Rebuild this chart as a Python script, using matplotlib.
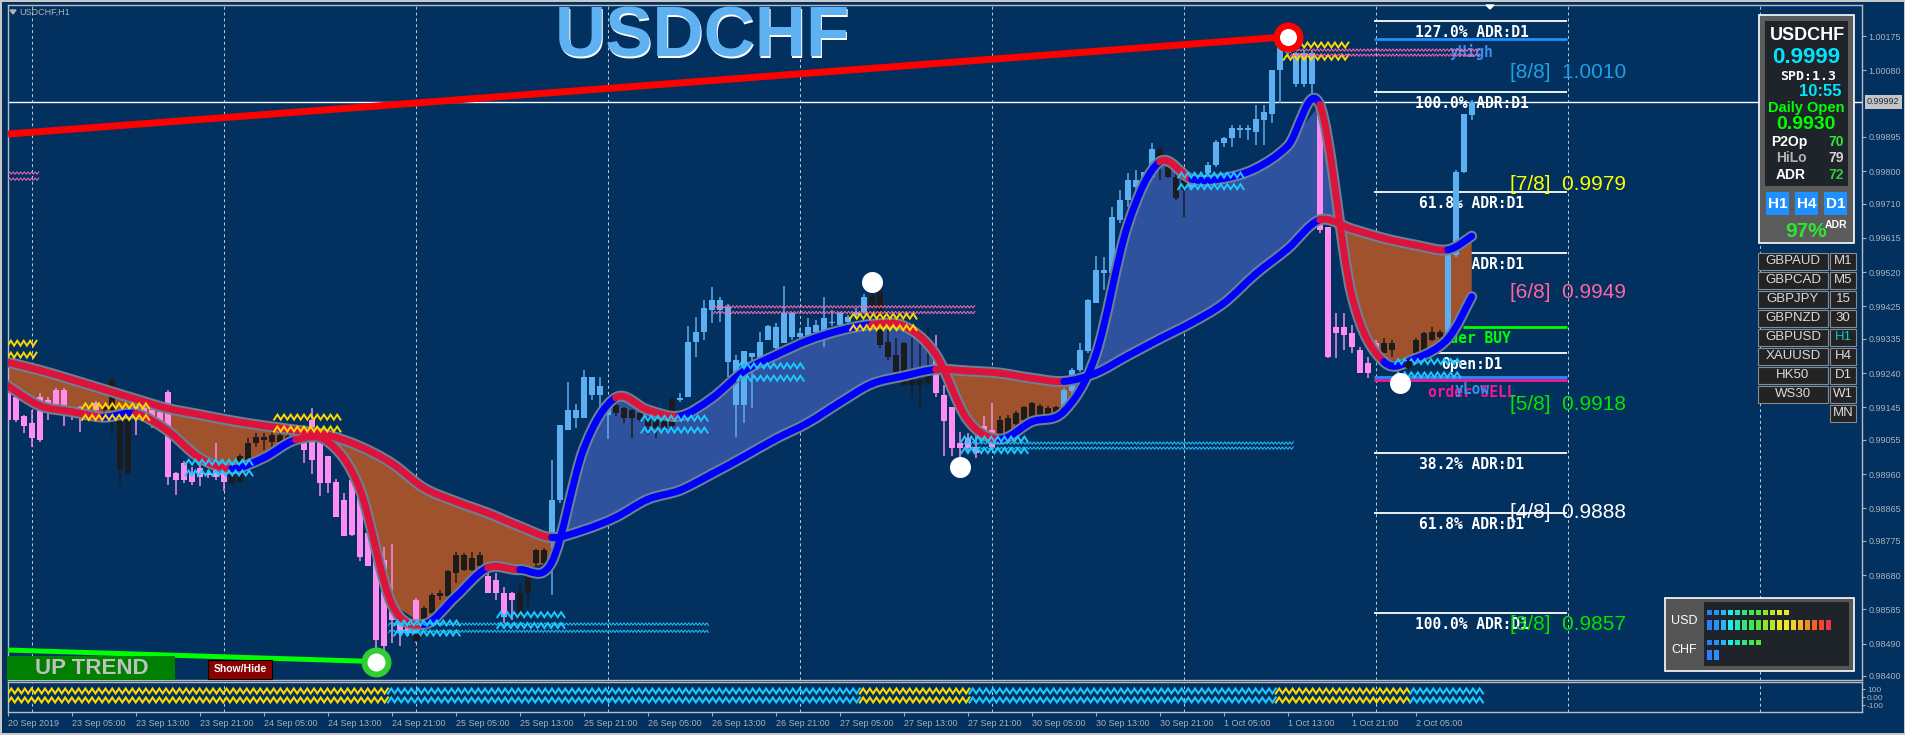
import numpy as np
import matplotlib
matplotlib.use("Agg")
import matplotlib.pyplot as plt
from matplotlib.patches import Rectangle, Polygon, PathPatch
from matplotlib.path import Path

plt.rcParams['font.family'] = ['Liberation Sans', 'DejaVu Sans']

# ======================= DATA =======================
symbol = "USDCHF"
# H1 candles, prices in points (1e-5)
open_pts = [
99203, 99175, 99120, 99101, 99175, 99166, 99147, 99194, 99138, 99147,
99138, 99157, 99147, 99138, 99138, 98963, 99129, 99129, 99110, 99133,
99189, 98963, 98990, 98963, 98976, 98963, 98953, 98981, 98963, 99009,
99000, 99046, 99055, 99050, 99050, 99050, 99064, 99046, 99110, 99050,
99009, 98939, 98889, 98944, 98898, 98796, 98741, 98722, 98611, 98547,
98556, 98519, 98556, 98574, 98621, 98621, 98685, 98695, 98695, 98704,
98676, 98667, 98630, 98630, 98630, 98630, 98750, 98750, 98796, 98889,
99082, 99115, 99115, 99230, 99179, 99143, 99152, 99143, 99138, 99129,
99115, 99110, 99106, 99092, 99166, 99173, 99327, 99355, 99415, 99443,
99424, 99276, 99152, 99295, 99281, 99332, 99369, 99323, 99406, 99341,
99343, 99373, 99332, 99378, 99373, 99383, 99401, 99410, 99420, 99465,
99327, 99290, 99323, 99244, 99221, 99258, 99286, 99179, 99147, 99045,
99059, 99036, 99069, 99082, 99110, 99060, 99100, 99110, 99115, 99150,
99120, 99115, 99140, 99190, 99249, 99300, 99434, 99526, 99517, 99665,
99720, 99757, 99785, 99785, 99863, 99812, 99785, 99748, 99766, 99775,
99794, 99817, 99877, 99891, 99914, 99919, 99910, 99942, 99960, 100080,
100140, 100127, 100043, 100127, 99997, 99646, 99369, 99369, 99350, 99304,
99267, 99295, 99295, 99304, 99258, 99258, 99295, 99300, 99332, 99341,
99350, 99568, 99799, 99956]
high_pts = [
99207, 99184, 99124, 99138, 99184, 99175, 99198, 99198, 99140, 99150,
99145, 99162, 99155, 99226, 99140, 99120, 99147, 99150, 99147, 99140,
99192, 98967, 98995, 98981, 98990, 98970, 99046, 98985, 98967, 99015,
99060, 99073, 99073, 99083, 99075, 99078, 99075, 99055, 99143, 99055,
99009, 98945, 98907, 98944, 98900, 98796, 98741, 98759, 98765, 98556,
98560, 98616, 98593, 98630, 98639, 98695, 98745, 98740, 98745, 98745,
98695, 98685, 98648, 98632, 98658, 98704, 98752, 98755, 99000, 99096,
99216, 99155, 99249, 99230, 99230, 99155, 99160, 99147, 99140, 99132,
99118, 99112, 99110, 99175, 99184, 99371, 99397, 99443, 99478, 99452,
99432, 99290, 99300, 99295, 99355, 99373, 99378, 99482, 99410, 99364,
99392, 99387, 99450, 99415, 99410, 99400, 99420, 99460, 99492, 99470,
99360, 99337, 99325, 99337, 99364, 99364, 99346, 99207, 99147, 99078,
99073, 99082, 99120, 99156, 99120, 99125, 99135, 99150, 99160, 99155,
99150, 99150, 99200, 99253, 99323, 99445, 99565, 99563, 99702, 99748,
99794, 99803, 99799, 99877, 99868, 99820, 99803, 99785, 99775, 99790,
99826, 99886, 99896, 99928, 99928, 99928, 99983, 99983, 100080, 100164,
100173, 100130, 100136, 100136, 100006, 99646, 99406, 99406, 99374, 99313,
99286, 99332, 99337, 99332, 99258, 99270, 99337, 99355, 99369, 99360,
99577, 99803, 99960, 99997]
low_pts = [
99101, 99105, 99073, 99036, 99050, 99110, 99143, 99092, 99110, 99078,
99120, 99133, 99133, 99064, 98930, 98958, 99069, 99120, 99087, 99087,
98930, 98902, 98935, 98930, 98926, 98950, 98944, 98912, 98930, 98935,
98995, 99036, 99027, 99036, 99045, 99046, 99060, 98990, 98960, 98898,
98907, 98842, 98787, 98787, 98720, 98704, 98440, 98440, 98491, 98482,
98510, 98491, 98540, 98556, 98611, 98611, 98658, 98690, 98690, 98700,
98630, 98611, 98547, 98556, 98556, 98593, 98704, 98710, 98625, 98880,
99082, 99087, 99115, 99166, 99129, 99057, 99120, 99103, 99059, 99105,
99069, 99059, 99080, 99082, 99160, 99173, 99286, 99332, 99380, 99383,
99230, 99064, 99101, 99143, 99281, 99332, 99304, 99323, 99332, 99337,
99341, 99350, 99313, 99370, 99365, 99375, 99395, 99405, 99410, 99310,
99276, 99244, 99203, 99175, 99147, 99207, 99175, 99009, 99009, 98981,
99020, 99004, 99055, 99030, 99045, 99050, 99090, 99100, 99100, 99105,
99105, 99100, 99130, 99180, 99244, 99295, 99434, 99471, 99457, 99655,
99702, 99748, 99780, 99785, 99775, 99780, 99720, 99674, 99750, 99770,
99789, 99812, 99868, 99868, 99891, 99886, 99873, 99873, 99933, 99988,
100117, 100034, 100034, 100006, 99628, 99281, 99281, 99304, 99295, 99240,
99226, 99286, 99295, 99286, 99212, 99250, 99295, 99295, 99328, 99335,
99346, 99563, 99794, 99942]
close_pts = [
99110, 99110, 99092, 99060, 99055, 99138, 99194, 99129, 99124, 99129,
99129, 99138, 99138, 99221, 98972, 99120, 99147, 99147, 99138, 99087,
98953, 98944, 98944, 98939, 98953, 98958, 98990, 98939, 98935, 98939,
99046, 99064, 99064, 99069, 99069, 99066, 99069, 99027, 99000, 98935,
98935, 98842, 98787, 98792, 98731, 98704, 98500, 98482, 98556, 98519,
98519, 98611, 98588, 98625, 98630, 98690, 98736, 98736, 98727, 98736,
98630, 98630, 98565, 98611, 98574, 98695, 98713, 98713, 98889, 99096,
99138, 99138, 99230, 99179, 99203, 99124, 99129, 99115, 99115, 99110,
99092, 99087, 99087, 99167, 99167, 99327, 99355, 99420, 99443, 99415,
99272, 99152, 99300, 99286, 99327, 99371, 99309, 99406, 99340, 99350,
99369, 99355, 99392, 99383, 99406, 99397, 99410, 99452, 99455, 99318,
99286, 99244, 99207, 99207, 99207, 99212, 99184, 99106, 99032, 99032,
99032, 99018, 99092, 99036, 99060, 99115, 99129, 99147, 99156, 99120,
99143, 99147, 99193, 99249, 99304, 99443, 99526, 99517, 99674, 99720,
99775, 99775, 99799, 99863, 99826, 99785, 99725, 99775, 99757, 99785,
99817, 99882, 99891, 99919, 99919, 99914, 99946, 99965, 100080, 100150,
100127, 100043, 100127, 100043, 99637, 99286, 99350, 99346, 99313, 99240,
99240, 99323, 99323, 99323, 99226, 99267, 99332, 99350, 99355, 99355,
99572, 99799, 99960, 99992]

# moving averages sampled every 4 bars (bar index -> points)
ma_bar = list(range(0, 184, 4)) + [183]
fast_ma_pts = [99205, 99150, 99133, 99118, 99128, 99080, 99005, 98975, 99005, 99055,
               99050, 98920, 98600, 98543, 98620, 98700, 98695, 98715, 99030, 99172,
               99138, 99121, 99170, 99245, 99290, 99330, 99358, 99375, 99371, 99292,
               99110, 99057, 99105, 99133, 99290, 99650, 99826, 99778, 99780, 99808,
               99870, 99985, 99457, 99272, 99281, 99335, 99452]
slow_ma_pts = [99270, 99248, 99222, 99195, 99168, 99142, 99125, 99108, 99094, 99082,
               99068, 99037, 98990, 98922, 98884, 98852, 98815, 98784, 98805, 98840,
               98890, 98915, 98960, 99008, 99058, 99102, 99158, 99210, 99232, 99250,
               99246, 99240, 99226, 99217, 99240, 99288, 99335, 99380, 99434, 99515,
               99585, 99665, 99640, 99614, 99595, 99582, 99620]

# time axis
tick_bars = list(range(0, 184, 8))
tick_labels = ["20 Sep 2019", "23 Sep 05:00", "23 Sep 13:00", "23 Sep 21:00", "24 Sep 05:00",
               "24 Sep 13:00", "24 Sep 21:00", "25 Sep 05:00", "25 Sep 13:00", "25 Sep 21:00",
               "26 Sep 05:00", "26 Sep 13:00", "26 Sep 21:00", "27 Sep 05:00", "27 Sep 13:00",
               "27 Sep 21:00", "30 Sep 05:00", "30 Sep 13:00", "30 Sep 21:00", "1 Oct 05:00",
               "1 Oct 13:00", "1 Oct 21:00", "2 Oct 05:00"]
day_start_bars = [3, 27, 51, 75, 99, 123, 147, 171, 195, 219]
price_ticks = [1.00175, 1.00080, 0.99895, 0.99800, 0.99710, 0.99615, 0.99520, 0.99425,
               0.99335, 0.99240, 0.99145, 0.99055, 0.98960, 0.98865, 0.98775, 0.98680,
               0.98585, 0.98490, 0.98400]
bid_price = 0.99992

# trend lines (bar, price)
red_trend_bars = [0, 160]
red_trend_prices = [0.99903, 1.00173]
green_trend_bars = [0, 46]
green_trend_prices = [0.98472, 0.98440]

# swing points
swing_bars = [46, 108, 119, 160, 174]
swing_sides = ["low", "high", "low", "high", "low"]
dot_bars = [51, 175]

# daily ADR / pivot levels
adr_levels = [1.00217, 1.00020, 0.99743, 0.99574, 0.99019, 0.98851, 0.98574]
adr_labels = ["127.0% ADR:D1", "100.0% ADR:D1", "61.8% ADR:D1", "38.2% ADR:D1",
              "38.2% ADR:D1", "61.8% ADR:D1", "100.0% ADR:D1"]
daily_open_level = 0.99297
y_high = 1.00167
y_low = 0.99230
order_sell = 0.99222
order_buy = 0.99368

# Murrey math levels
murrey_names = ["[8/8]", "[7/8]", "[6/8]", "[5/8]", "[4/8]", "[3/8]"]
murrey_levels = [1.0010, 0.9979, 0.9949, 0.9918, 0.9888, 0.9857]

# zigzag band markers: (start bar, end bar, upper price, lower price, kind)
band_start = [0, 9.3, 22.2, 33.3, 48.3, 61.2, 79.2, 91.2, 105.3, 119.2, 146.3, 159.5, 173.4]
band_end = [3.6, 17.7, 30.6, 41.6, 56.5, 69.6, 87.5, 99.5, 113.6, 127.5, 154.5, 167.6, 181.6]
band_top = [0.99323, 0.99149, 0.98993, 0.99118, 0.98547, 0.98570, 0.99115, 0.99260,
            0.99398, 0.99057, 0.99789, 1.00150, 0.99272]
band_bot = [0.99290, 0.99117, 0.98963, 0.99085, 0.98519, 0.98540, 0.99082, 0.99226,
            0.99366, 0.99025, 0.99757, 1.00116, 0.99235]
band_kind = ["res", "res", "sup", "res", "sup", "sup", "sup", "sup", "res", "sup", "sup", "res", "sup"]
thin_start = [0, 88.2, 160.3, 47.6, 119.5]
thin_end = [3.9, 120.9, 184.0, 87.6, 160.7]
thin_top = [0.99795, 0.99424, 1.00136, 0.98544, 0.99046]
thin_bot = [0.99778, 0.99408, 1.00122, 0.98524, 0.99032]
thin_kind = ["res", "res", "res", "sup", "sup"]

# lower indicator panel state segments
lower_bounds = [0, 47.5, 106.5, 120.2, 158.5, 175.3, 184.4]
lower_state = [1, 0, 1, 0, 1, 0]

# info panel
info_price = "0.9999"
info_spread = "SPD:1.3"
info_time = "10:55"
info_daily_open = "0.9930"
info_p2op, info_hilo, info_adr = 70, 79, 72
info_adr_pct = 97
pairs = ["GBPAUD", "GBPCAD", "GBPJPY", "GBPNZD", "GBPUSD", "XAUUSD", "HK50", "WS30", ""]
pair_tfs = ["M1", "M5", "15", "30", "H1", "H4", "D1", "W1", "MN"]
usd_strength = [12, 18]
chf_strength = [8, 2]

# ======================= FIGURE =======================
W, H = 1906, 735
fig = plt.figure(figsize=(W / 100, H / 100), dpi=100)
fig.patch.set_facecolor('#c8c8c8')
BG = '#02305f'
AXC = '#a9b1ba'
PX = 0.72  # points per pixel


def frac(x0, y0, x1, y1):
    return [x0 / W, 1 - y1 / H, (x1 - x0) / W, (y1 - y0) / H]


bg = fig.add_axes([0, 0, 1, 1])
bg.set_xlim(0, W); bg.set_ylim(H, 0); bg.axis('off'); bg.set_zorder(0)
bg.add_patch(Rectangle((2, 2), W - 4, H - 4, facecolor=BG, edgecolor='none'))

# main chart axes
XPB = 8.0           # pixels per bar
YPP = 36056.0       # pixels per price unit
x_lo = (8 - 7.7) / XPB
x_hi = (1862 - 7.7) / XPB
y_lo, y_hi = 0.983889, 1.002610
ax = fig.add_axes(frac(8, 5, 1862, 680))
ax.set_zorder(1); ax.patch.set_alpha(0)
ax.set_xlim(x_lo, x_hi); ax.set_ylim(y_lo, y_hi)

axl = fig.add_axes(frac(8, 682, 1862, 712))
axl.set_zorder(1); axl.patch.set_alpha(0)
axl.set_xlim(x_lo, x_hi); axl.set_ylim(-187.5, 187.5)

for a in (ax, axl):
    for s in a.spines.values():
        s.set_color('#b8bcc2'); s.set_linewidth(1.0)
    for g in day_start_bars:
        a.axvline(g, color='#c8ccd2', lw=0.7, ls=(0, (3, 3)), zorder=0.5)

# axes ticks
ax.yaxis.tick_right()
ax.set_yticks(price_ticks)
ax.set_yticklabels([f"{v:.5f}" for v in price_ticks])
ax.tick_params(axis='y', length=3, pad=1.5, colors=AXC, labelsize=6.5, width=0.8)
ax.tick_params(axis='x', bottom=False, labelbottom=False)
ax.annotate(f"{bid_price:.5f}", xy=(1, bid_price), xycoords=('axes fraction', 'data'),
            xytext=(5, 0), textcoords='offset pixels', ha='left', va='center',
            fontsize=6.5, color='#1a2b40', annotation_clip=False,
            bbox=dict(boxstyle='square,pad=0.25', fc='#c4c4c4', ec='none'))

axl.yaxis.tick_right()
axl.set_yticks([100, 0, -100]); axl.set_yticklabels(['100', '0.00', '-100'])
axl.tick_params(axis='y', length=2, pad=1.5, colors=AXC, labelsize=6, width=0.8)
axl.set_xticks(tick_bars)
axl.set_xticklabels(tick_labels, ha='left')
axl.tick_params(axis='x', length=3, pad=2, colors=AXC, labelsize=6.5, width=0.8)

# current bid line
ax.axhline(bid_price, color='white', lw=1.0, zorder=1)

# ---- ADR levels and labels ----
lvl_x0 = (1374 - 7.7) / XPB
lvl_x1 = (1567 - 7.7) / XPB
lbl_x = 183
mono = dict(family='DejaVu Sans Mono', fontweight='bold', fontsize=10.5)
for lv, lb in zip(adr_levels, adr_labels):
    ax.hlines(lv, lvl_x0, lvl_x1, color='white', lw=1.3, zorder=1.5)
    ax.annotate(lb, xy=(lbl_x, lv), xytext=(0, -4), textcoords='offset pixels',
                ha='center', va='top', color='white', zorder=1.5, **mono)
ax.hlines(daily_open_level, lvl_x0, lvl_x1, color='white', lw=1.3, zorder=1.5)
ax.annotate("Open:D1", xy=(lbl_x, daily_open_level), xytext=(0, -4), textcoords='offset pixels',
            ha='center', va='top', color='white', zorder=1.5, **mono)
ax.hlines(order_buy, (1463 - 7.7) / XPB, lvl_x1, color='#00ff00', lw=2.0, zorder=1.5)
ax.annotate("order BUY", xy=(lbl_x, order_buy), xytext=(0, -4), textcoords='offset pixels',
            ha='center', va='top', color='#00ff00', zorder=1.5, **mono)
ax.hlines(order_sell, lvl_x0, lvl_x1, color='#ff1493', lw=2.0, zorder=1.5)
ax.annotate("order SELL", xy=(lbl_x, order_sell), xytext=(0, -5), textcoords='offset pixels',
            ha='center', va='top', color='#ff1493', zorder=1.5, **mono)
for lv, lb in ((y_high, "yHigh"), (y_low, "yLow")):
    ax.hlines(lv, lvl_x0, lvl_x1, color='#1e90ff', lw=2.0, zorder=1.6)
    ax.annotate(lb, xy=(lbl_x, lv), xytext=(0, -5), textcoords='offset pixels',
                ha='center', va='top', color='#3a8ee8', zorder=1.6, **mono)

# ---- MA band fill ----
mx = np.array(ma_bar, dtype=float)
fast = np.array(fast_ma_pts) / 1e5
slow = np.array(slow_ma_pts) / 1e5
ax.fill_between(mx, fast, slow, where=fast >= slow, interpolate=True,
                color='#2f529e', lw=0, zorder=2)
ax.fill_between(mx, fast, slow, where=fast < slow, interpolate=True,
                color='#a0522d', lw=0, zorder=2)

# ---- candles ----
o = np.array(open_pts) / 1e5
hi = np.array(high_pts) / 1e5
lo = np.array(low_pts) / 1e5
c = np.array(close_pts) / 1e5
bars = np.arange(len(c))
seg = np.clip(np.searchsorted(mx, bars, side='right') - 1, 0, len(mx) - 2)
f_up = fast[seg + 1] > fast[seg]
s_up = slow[seg + 1] > slow[seg]
BLUE_C, PINK_C, BLACK_C = '#5caff0', '#ff8cf0', '#1c1c1c'
cols = np.where(f_up & s_up, BLUE_C, np.where(~f_up & ~s_up, PINK_C, BLACK_C))
ax.vlines(bars, lo, hi, colors=cols, lw=1.5 * PX, zorder=3)
body_lo = np.minimum(o, c)
body_h = np.maximum(np.abs(c - o), 1.5 / YPP)
ax.bar(bars, body_h, bottom=body_lo, width=0.74, color=cols, linewidth=0, zorder=3.1)


# ---- MA lines (smooth Bezier path through the sampled points) ----
def bezier_pieces(xs, ys):
    pts = np.column_stack([xs, ys])
    n = len(pts)
    pieces = []
    for k in range(n - 1):
        p0 = pts[max(k - 1, 0)]
        p1 = pts[k]
        p2 = pts[k + 1]
        p3 = pts[min(k + 2, n - 1)]
        c1 = p1 + (p2 - p0) / 6.0
        c2 = p2 - (p3 - p1) / 6.0
        pieces.append([p1, c1, c2, p2])
    return pieces


for line in (slow, fast):
    pcs = bezier_pieces(mx, line)
    verts = [pcs[0][0]]
    codes = [Path.MOVETO]
    for pc in pcs:
        verts += [pc[1], pc[2], pc[3]]
        codes += [Path.CURVE4] * 3
    ax.add_patch(PathPatch(Path(verts, codes), facecolor='none', edgecolor='#6d8094',
                           lw=11 * PX, capstyle='round', joinstyle='round', zorder=4))
for line in (slow, fast):
    pcs = bezier_pieces(mx, line)
    for k, pc in enumerate(pcs):
        colr = '#0000ff' if line[k + 1] > line[k] else '#dc143c'
        ax.add_patch(PathPatch(Path(pc, [Path.MOVETO] + [Path.CURVE4] * 3), facecolor='none',
                               edgecolor=colr, lw=7 * PX, capstyle='round', joinstyle='round',
                               zorder=5))


# ---- zigzag markers ----
def zigzag(a, x0, x1, yc, period_px, amp, color, lw, xs=XPB, z=6):
    n = max(2, int(round((x1 - x0) * xs / (period_px / 2.0))))
    xx = np.linspace(x0, x1, n + 1)
    yy = yc + np.where(np.arange(n + 1) % 2 == 0, -1.0, 1.0) * amp / 2.0
    a.plot(xx, yy, color=color, lw=lw, zorder=z, solid_joinstyle='miter')


band_col = {"res": '#ffd700', "sup": '#1ec8ff'}
for s0, s1, t, b, k in zip(band_start, band_end, band_top, band_bot, band_kind):
    for yv in (t, b):
        zigzag(ax, s0, s1, yv, 6.7, 5.0 / YPP, band_col[k], 1.4)
thin_col = {"res": '#ff69b4', "sup": '#1ec8ff'}
for s0, s1, t, b, k in zip(thin_start, thin_end, thin_top, thin_bot, thin_kind):
    for yv in (t, b):
        zigzag(ax, s0, s1, yv, 3.6, 2.5 / YPP, thin_col[k], 0.7)

# ---- trend lines ----
ax.plot([x_lo, red_trend_bars[1]],
        np.interp([x_lo, red_trend_bars[1]], red_trend_bars, red_trend_prices),
        color='#ff0000', lw=7 * PX, solid_capstyle='butt', zorder=6)
ax.plot([x_lo, green_trend_bars[1]],
        np.interp([x_lo, green_trend_bars[1]], green_trend_bars, green_trend_prices),
        color='#00ff00', lw=5 * PX, solid_capstyle='butt', zorder=6)

# ---- swing circles ----
for b, sd in zip(swing_bars, swing_sides):
    yv = hi[b] if sd == "high" else lo[b]
    if b == 46:
        ax.scatter([b], [yv], s=(30 * PX) ** 2, color='#32cd32', zorder=7, linewidths=0)
        ax.scatter([b], [yv], s=(18 * PX) ** 2, color='white', zorder=7.1, linewidths=0)
    elif b == 160:
        ax.scatter([b], [yv], s=(30 * PX) ** 2, color='#ff0000', zorder=7, linewidths=0)
        ax.scatter([b], [yv], s=(17 * PX) ** 2, color='white', zorder=7.1, linewidths=0)
    else:
        ax.scatter([b], [yv], s=(21 * PX) ** 2, color='white', zorder=7, linewidths=0)
for b in dot_bars:
    ax.scatter([b], [lo[b] + 6 / YPP], s=(8 * PX) ** 2, color='#1a1a1a', zorder=6.5, linewidths=0)

# ---- Murrey labels ----
mcol = ['#1ea0e6', '#ffff00', '#ff64a0', '#00e600', '#ffffff', '#00e600']
for nm, lv, cc in zip(murrey_names, murrey_levels, mcol):
    ax.text((1510 - 7.7) / XPB, lv, f"{nm}  {lv:.4f}", color=cc, fontsize=15,
            ha='left', va='top', zorder=7)

# ---- lower panel zigzags ----
for k in range(len(lower_state)):
    cc = '#ffd700' if lower_state[k] == 1 else '#1ec8ff'
    for yv in (75, -37):
        zigzag(axl, lower_bounds[k], lower_bounds[k + 1], yv, 6.7, 62, cc, 1.5, z=3)

# ======================= OVERLAY (panels, buttons) =======================
ov = fig.add_axes([0, 0, 1, 1])
ov.set_xlim(0, W); ov.set_ylim(H, 0); ov.axis('off'); ov.set_zorder(10)


def rect(x0, y0, x1, y1, fc, ec='none', lw=0.0, z=1):
    ov.add_patch(Rectangle((x0, y0), x1 - x0, y1 - y0, facecolor=fc, edgecolor=ec,
                           linewidth=lw, zorder=z))


def txt(x, y, s, color='white', size=10, weight='normal', ha='center', family=None, z=3):
    kw = {}
    if family:
        kw['family'] = family
    ov.text(x, y, s, color=color, fontsize=size, fontweight=weight, ha=ha, va='center',
            zorder=z, **kw)


# chart name top-left
ov.add_patch(Polygon([(10, 10), (16, 10), (13, 14)], closed=True, color='#b4b4b4'))
txt(19, 12, f"{symbol},H1", color='#b4b4b4', size=6.5, ha='left')
ov.add_patch(Polygon([(1486, 5), (1494, 5), (1490, 9)], closed=True, color='white'))

# big title
txt(703.5, 40, symbol, color='white', size=51, weight='bold')
txt(702, 38.5, symbol, color='#5fb2f2', size=51, weight='bold')

# UP TREND box and Show/Hide button
rect(7, 656, 175, 680, '#008000')
txt(91.5, 668.5, "UP TREND", color='#c0c0c0', size=16, weight='bold')
rect(208, 660, 272, 679, '#8b0000', ec='black', lw=0.8)
txt(240, 669.5, "Show/Hide", size=7.5, weight='bold')

# info panel
rect(1759, 15, 1854, 243, '#5c5c5c', ec='white', lw=1.2)
rect(1765, 21, 1848, 186, '#1f242b')
txt(1807, 35, symbol, size=13, weight='bold')
txt(1806, 57, info_price, color='#00e5ff', size=16, weight='bold')
txt(1808, 76, info_spread, size=9.5, weight='bold', family='DejaVu Sans Mono')
txt(1820, 91.5, info_time, color='#00e5ff', size=12, weight='bold')
txt(1806, 107.5, "Daily Open", color='#00ff00', size=10.5, weight='bold')
txt(1806, 124, info_daily_open, color='#00ff00', size=14, weight='bold')
txt(1789, 142, "P2Op", size=10, weight='bold')
txt(1836, 142, str(info_p2op), color='#32e632', size=10, weight='bold')
txt(1791, 158, "HiLo", color='#b4b4b4', size=10, weight='bold')
txt(1836, 158, str(info_hilo), color='#d4d4d4', size=10, weight='bold')
txt(1791, 175, "ADR", size=10, weight='bold')
txt(1836, 175, str(info_adr), color='#32cd32', size=10, weight='bold')
for x0, lab in zip((1766, 1795, 1824), ("H1", "H4", "D1")):
    rect(x0, 192, x0 + 23, 215, '#1e90ff')
    txt(x0 + 11.5, 203.5, lab, size=11, weight='bold')
txt(1806, 231, f"{info_adr_pct}%", color='#2ee62e', size=15, weight='bold')
txt(1836, 225, "ADR", size=7.5, weight='bold')

# pair buttons
for k, (p, tf) in enumerate(zip(pairs, pair_tfs)):
    yc = 261 + 19 * k
    if p:
        rect(1758, yc - 8.5, 1828, yc + 8.5, '#232323', ec='#8a8a8a', lw=0.8)
        txt(1793, yc, p, color='#dcdcdc', size=9.5)
    rect(1830, yc - 8.5, 1856, yc + 8.5, '#232323', ec='#8a8a8a', lw=0.8)
    txt(1843, yc, tf, color='#00ced1' if tf == 'H1' else '#dcdcdc', size=9.5)

# currency strength meter
rect(1665, 598, 1854, 671, '#555555', ec='white', lw=1.2)
rect(1704, 602, 1849, 666, '#1f242b')
txt(1684, 621, "USD", size=9)
txt(1684, 650, "CHF", size=9)
grad = ['#2d7ff9', '#2d8ff9', '#28b4f5', '#28e6f0', '#28e6b4', '#32e678', '#3ce650', '#50e63c',
        '#8ce632', '#b4e628', '#e6e628', '#f0e628', '#f0d228', '#f0b428', '#f08c28', '#f06428',
        '#f04632', '#f03241']
rows = [(usd_strength[0], 610, 5, 5.0), (usd_strength[1], 620, 10, 5.5),
        (chf_strength[0], 640, 5, 5.0), (chf_strength[1], 650, 10, 5.5)]
for n, y0, hgt, wd in rows:
    for k in range(n):
        rect(1707 + 7 * k, y0, 1707 + 7 * k + wd, y0 + hgt, grad[k])

fig.savefig("out.png", dpi=100, facecolor=fig.get_facecolor())
